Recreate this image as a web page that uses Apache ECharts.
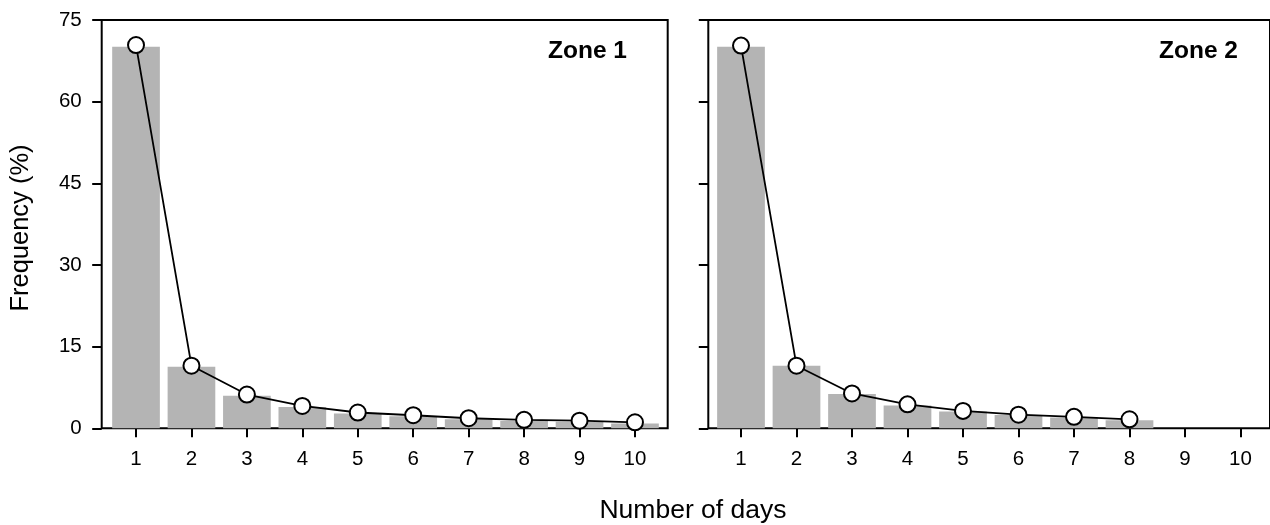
<!DOCTYPE html>
<html>
<head>
<meta charset="utf-8">
<script src="https://cdn.jsdelivr.net/npm/echarts@6/dist/echarts.min.js"></script>
<style>
html,body{margin:0;padding:0;background:#fff;}
#chart{width:1270px;height:525px;}
</style>
</head>
<body>
<div id="chart"></div>
<script>
const days = ['1','2','3','4','5','6','7','8','9','10'];
const zone1Bars = [70.1, 11.3, 6.0, 3.9, 2.7, 2.2, 1.65, 1.35, 1.2, 0.9];
const zone1Line = [70.4, 11.5, 6.2, 4.1, 2.9, 2.4, 1.85, 1.55, 1.4, 1.1];
const zone2Bars = [70.1, 11.5, 6.3, 4.2, 3.1, 2.45, 2.0, 1.5];
const zone2Line = [70.3, 11.5, 6.4, 4.4, 3.2, 2.5, 2.1, 1.65];
const yMin = 0, yMax = 75, yStep = 15;
const panelTitles = ['Zone 1', 'Zone 2'];
const xName = 'Number of days';
const yName = 'Frequency (%)';

const FONT = '"Liberation Sans", Arial, sans-serif';
const chart = echarts.init(document.getElementById('chart'), null, {renderer: 'canvas'});

const TOP = 20, H = 408.3;
function frameGrid(left, width) {
  return {left: left, top: TOP, width: width, height: H, show: true, borderColor: '#000', borderWidth: 2, backgroundColor: 'transparent', containLabel: false};
}
function dataGrid(left, width) {
  return {left: left, top: TOP, width: width, height: H, containLabel: false};
}
const tickStyle = {color: '#000', width: 2};
const LABEL_SIZE = 20.5;

const option = {
  backgroundColor: '#fff',
  animation: false,
  textStyle: {fontFamily: FONT},
  grid: [
    frameGrid(101.7, 566),
    dataGrid(108.3, 554.4),
    frameGrid(708.3, 572),
    dataGrid(713.25, 555)
  ],
  xAxis: [
    {gridIndex: 0, type: 'value', min: 0, max: 1, show: false},
    {gridIndex: 1, type: 'category', data: days, boundaryGap: true,
      axisLine: {show: false},
      axisTick: {show: true, alignWithLabel: true, length: 9, lineStyle: tickStyle},
      axisLabel: {color: '#000', fontSize: LABEL_SIZE, fontFamily: FONT, margin: 21}},
    {gridIndex: 2, type: 'value', min: 0, max: 1, show: false},
    {gridIndex: 3, type: 'category', data: days, boundaryGap: true,
      axisLine: {show: false},
      axisTick: {show: true, alignWithLabel: true, length: 9, lineStyle: tickStyle},
      axisLabel: {color: '#000', fontSize: LABEL_SIZE, fontFamily: FONT, margin: 21}}
  ],
  yAxis: [
    {gridIndex: 0, type: 'value', min: yMin, max: yMax, interval: yStep,
      axisLine: {show: false}, splitLine: {show: false},
      axisTick: {show: true, length: 9.5, lineStyle: tickStyle},
      axisLabel: {color: '#000', fontSize: LABEL_SIZE, fontFamily: FONT, margin: 20}},
    {gridIndex: 1, type: 'value', min: yMin, max: yMax, interval: yStep, show: false, splitLine: {show: false}},
    {gridIndex: 2, type: 'value', min: yMin, max: yMax, interval: yStep,
      axisLine: {show: false}, splitLine: {show: false},
      axisTick: {show: true, length: 9.5, lineStyle: tickStyle},
      axisLabel: {show: false}},
    {gridIndex: 3, type: 'value', min: yMin, max: yMax, interval: yStep, show: false, splitLine: {show: false}}
  ],
  series: [
    {type: 'bar', xAxisIndex: 1, yAxisIndex: 1, data: zone1Bars, barCategoryGap: '14%',
      itemStyle: {color: '#b4b4b4'}, z: 1},
    {type: 'line', xAxisIndex: 1, yAxisIndex: 1, data: zone1Line, symbol: 'circle', symbolSize: 16,
      lineStyle: {color: '#000', width: 1.8},
      itemStyle: {color: '#fff', borderColor: '#000', borderWidth: 2}, z: 5},
    {type: 'bar', xAxisIndex: 3, yAxisIndex: 3, data: zone2Bars, barCategoryGap: '14%',
      itemStyle: {color: '#b4b4b4'}, z: 1},
    {type: 'line', xAxisIndex: 3, yAxisIndex: 3, data: zone2Line, symbol: 'circle', symbolSize: 16,
      lineStyle: {color: '#000', width: 1.8},
      itemStyle: {color: '#fff', borderColor: '#000', borderWidth: 2}, z: 5}
  ],
  graphic: [
    {type: 'text', x: 627, y: 51, style: {text: panelTitles[0], align: 'right', verticalAlign: 'middle', font: 'bold 24.5px ' + FONT, fill: '#000'}},
    {type: 'text', x: 1238, y: 51, style: {text: panelTitles[1], align: 'right', verticalAlign: 'middle', font: 'bold 24.5px ' + FONT, fill: '#000'}},
    {type: 'text', x: 693, y: 511, style: {text: xName, align: 'center', verticalAlign: 'middle', font: '26.5px ' + FONT, fill: '#000'}},
    {type: 'text', x: 21, y: 228, rotation: Math.PI / 2, style: {text: yName, align: 'center', verticalAlign: 'middle', font: '25.5px ' + FONT, fill: '#000'}}
  ]
};
chart.setOption(option);
</script>
</body>
</html>
